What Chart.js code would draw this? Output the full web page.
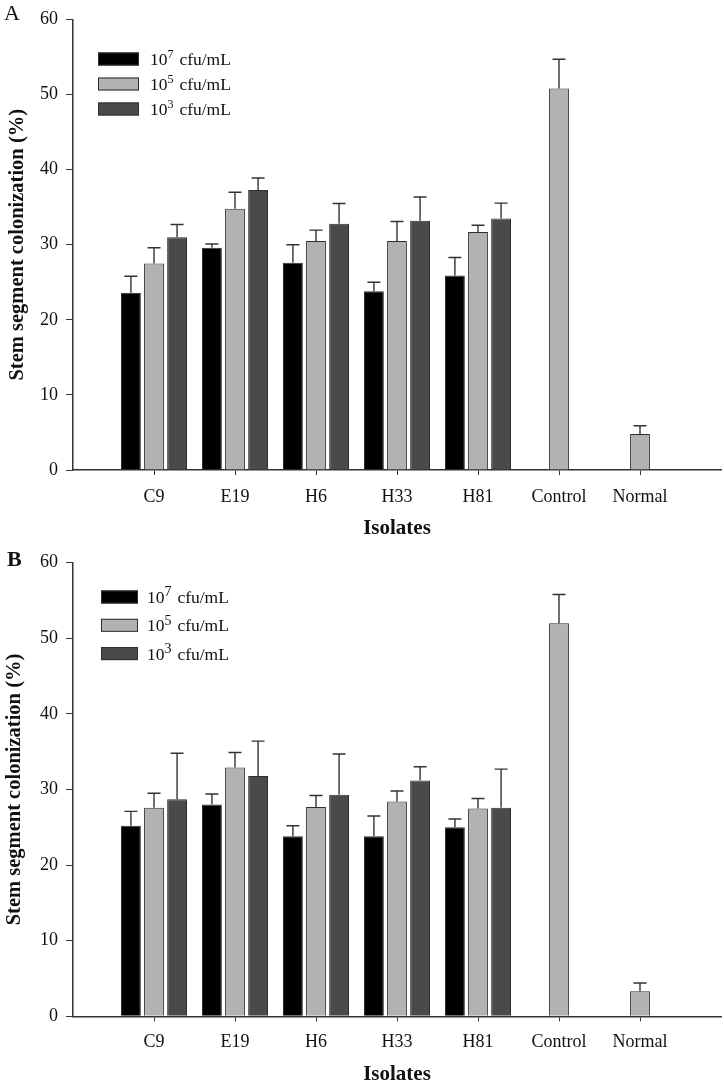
<!DOCTYPE html>
<html>
<head>
<meta charset="utf-8">
<script src="https://cdn.jsdelivr.net/npm/chart.js@4/dist/chart.umd.min.js"></script>
<style>
  html, body { margin: 0; padding: 0; background: #fff; }
  canvas { display: block; }
</style>
</head>
<body>
<canvas id="chartA" width="724" height="540"></canvas>
<canvas id="chartB" width="724" height="545"></canvas>
<script>
// ---- data ----
const categories = ['C9', 'E19', 'H6', 'H33', 'H81', 'Control', 'Normal'];
const seriesLabels = ['10⁷ cfu/mL', '10⁵ cfu/mL', '10³ cfu/mL'];
const yTicks = [0, 10, 20, 30, 40, 50, 60];

// Panel A
const a107 = [23.6, 29.6, 27.6, 23.8, 25.9, null, null];
const a107err = [2.2, 0.5, 2.4, 1.2, 2.4, null, null];
const a105 = [27.5, 34.8, 30.5, 30.5, 31.7, 50.8, 4.8];
const a105err = [2.1, 2.2, 1.45, 2.6, 0.9, 3.9, 1.1];
const a103 = [31.0, 37.3, 32.8, 33.2, 33.5, null, null];
const a103err = [1.7, 1.6, 2.7, 3.15, 2.05, null, null];

// Panel B
const b107 = [25.2, 28.0, 23.8, 23.8, 25.0, null, null];
const b107err = [1.9, 1.4, 1.4, 2.7, 1.1, null, null];
const b105 = [27.6, 32.9, 27.7, 28.4, 27.5, 52.0, 3.3];
const b105err = [1.9, 2.0, 1.5, 1.4, 1.3, 3.8, 1.1];
const b103 = [28.7, 31.8, 29.3, 31.2, 27.6, null, null];
const b103err = [6.1, 4.6, 5.4, 1.8, 5.1, null, null];

// ---- styling ----
const SERIF = "'Liberation Serif', 'Times New Roman', Times, serif";
const fills = ['#000000', '#b2b2b2', '#4a4a4a'];
const edge = '#2e2e2e';

const pad = arr => [null, ...arr, null];
const axisLabels = ['', ...categories, ''];
const supMap = { '⁰':'0','¹':'1','²':'2','³':'3','⁴':'4','⁵':'5','⁶':'6','⁷':'7','⁸':'8','⁹':'9' };

const overlay = {
  id: 'overlay',
  afterDatasetsDraw(chart, args, o) {
    const ctx = chart.ctx;
    const ys = chart.scales.y;
    ctx.save();
    // error bars (upper)
    ctx.strokeStyle = '#333';
    ctx.lineWidth = 1.4;
    chart.data.datasets.forEach((ds, i) => {
      const meta = chart.getDatasetMeta(i);
      meta.data.forEach((bar, j) => {
        const v = ds.data[j], e = ds.errors[j];
        if (v == null || e == null) return;
        const yv = ys.getPixelForValue(v);
        const ye = ys.getPixelForValue(v + e);
        ctx.beginPath();
        ctx.moveTo(bar.x, yv);
        ctx.lineTo(bar.x, ye);
        ctx.moveTo(bar.x - o.cap, ye);
        ctx.lineTo(bar.x + o.cap, ye);
        ctx.stroke();
      });
    });
    // legend
    const L = o.legend;
    chart.data.datasets.forEach((ds, i) => {
      const cy = L.y0 + i * L.dy;
      ctx.fillStyle = ds.backgroundColor;
      ctx.fillRect(L.x, cy - L.h / 2, L.w, L.h);
      ctx.strokeStyle = edge;
      ctx.lineWidth = 1;
      ctx.strokeRect(L.x + 0.5, cy - L.h / 2 + 0.5, L.w - 1, L.h - 1);
      let tx = L.tx;
      ctx.fillStyle = '#111';
      ctx.textBaseline = 'alphabetic';
      ctx.textAlign = 'left';
      const base = cy + L.fs * 0.34;
      for (const ch of ds.label) {
        if (supMap[ch]) {
          ctx.font = `${L.sfs}px ${SERIF}`;
          ctx.fillText(supMap[ch], tx, base - L.raise);
          tx += ctx.measureText(supMap[ch]).width + 1.5;
        } else {
          ctx.font = `${L.fs}px ${SERIF}`;
          ctx.fillText(ch, tx, base);
          tx += ctx.measureText(ch).width;
        }
      }
    });
    // panel letter
    ctx.font = `${o.letterBold ? 'bold ' : ''}${o.letterSize}px ${SERIF}`;
    ctx.fillStyle = '#111';
    ctx.textAlign = 'left';
    ctx.textBaseline = 'middle';
    ctx.fillText(o.letter, o.letterX, o.letterY);
    ctx.restore();
  }
};

function makeChart(id, s107, e107, s105, e105, s103, e103, cfg) {
  const datasets = [
    { label: seriesLabels[0], data: pad(s107), errors: pad(e107), backgroundColor: fills[0] },
    { label: seriesLabels[1], data: pad(s105), errors: pad(e105), backgroundColor: fills[1] },
    { label: seriesLabels[2], data: pad(s103), errors: pad(e103), backgroundColor: fills[2] }
  ].map(d => Object.assign(d, { borderColor: edge, borderWidth: 1, categoryPercentage: 0.855, barPercentage: 0.86 }));

  return new Chart(document.getElementById(id), {
    type: 'bar',
    data: { labels: axisLabels, datasets },
    options: {
      responsive: false,
      animation: false,
      layout: { padding: { left: 0, right: 3, top: cfg.top, bottom: 0 } },
      plugins: {
        legend: { display: false },
        tooltip: { enabled: false },
        overlay: cfg.overlay
      },
      scales: {
        x: {
          type: 'category',
          offset: false,
          afterFit: s => { s.height = cfg.xHeight; s.paddingLeft = 0; s.paddingRight = 0; },
          grid: {
            display: true, offset: false, drawOnChartArea: false, drawTicks: true, tickLength: 5,
            color: c => (c.index === 0 || c.index === axisLabels.length - 1) ? 'rgba(0,0,0,0)' : '#333',
            lineWidth: 1
          },
          border: { display: true, color: '#333', width: 1.5 },
          ticks: { autoSkip: false, maxRotation: 0, padding: cfg.xPad, color: '#111', font: { family: SERIF, size: 18 } },
          title: { display: true, text: 'Isolates', color: '#111', font: { family: SERIF, size: 21, weight: 'bold', lineHeight: 1 }, padding: { top: 0, bottom: cfg.titleBottom } }
        },
        y: {
          min: 0, max: 60,
          afterFit: s => { s.width = 73; },
          afterBuildTicks: s => { s.ticks = yTicks.map(v => ({ value: v })); },
          grid: { display: true, drawOnChartArea: false, drawTicks: true, tickLength: 7, color: '#333', lineWidth: 1 },
          border: { display: true, color: '#333', width: 1.5 },
          ticks: { padding: 8, color: '#111', font: { family: SERIF, size: 18 } },
          title: { display: true, text: 'Stem segment colonization (%)', color: '#111', font: { family: SERIF, size: 20.5, weight: 'bold', lineHeight: 1 }, padding: { top: cfg.yTitlePad, bottom: 0 } }
        }
      }
    },
    plugins: [overlay]
  });
}

makeChart('chartA', a107, a107err, a105, a105err, a103, a103err, {
  top: 19.5, xHeight: 70, xPad: 11, titleBottom: 1, yTitlePad: 7,
  overlay: {
    cap: 6.5,
    legend: { x: 98, y0: 59, dy: 25, w: 41, h: 13, tx: 150, fs: 17.5, sfs: 12, raise: 6.5 },
    letter: 'A', letterBold: false, letterSize: 22, letterX: 4, letterY: 14
  }
});

makeChart('chartB', b107, b107err, b105, b105err, b103, b103err, {
  top: 22.7, xHeight: 68.7, xPad: 10.5, titleBottom: 0, yTitlePad: 4,
  overlay: {
    cap: 6.5,
    legend: { x: 101, y0: 57, dy: 28.3, w: 37, h: 13, tx: 147, fs: 17.5, sfs: 14, raise: 6.5 },
    letter: 'B', letterBold: true, letterSize: 22, letterX: 7, letterY: 20
  }
});
</script>
</body>
</html>
